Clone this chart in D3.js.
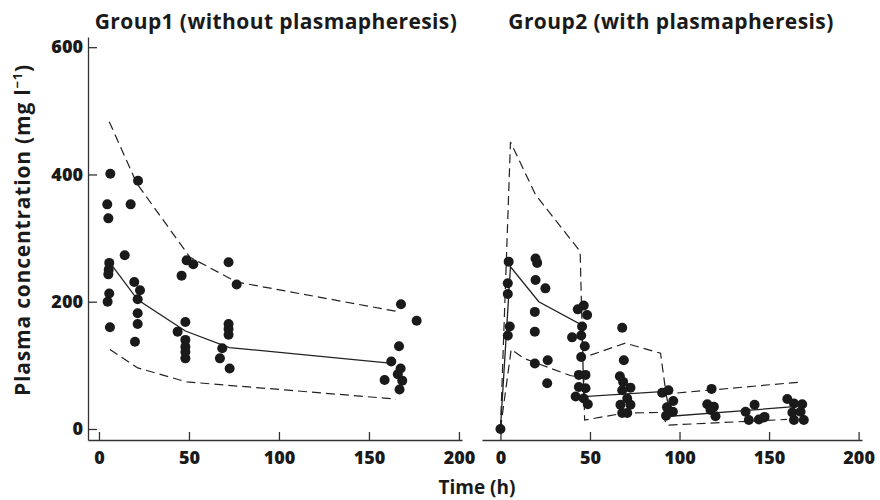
<!DOCTYPE html>
<html>
<head>
<meta charset="utf-8">
<script src="https://cdn.jsdelivr.net/npm/d3@7"></script>
<style>
  body { margin: 0; background: #fff; }
  text { font-family: "Open Sans", "DejaVu Sans", sans-serif; font-weight: 700; fill: #1a1a1a; }
  .axis path, .axis line { stroke: #333; stroke-width: 1.3; }
  .axis .tick text { font-family: "Open Sans", sans-serif; font-weight: 800; font-size: 18px; }
</style>
</head>
<body>
<div id="chart"></div>
<script>
// Group 1 observations (time h, concentration mg/l)
const g1Time = [6.3, 21.7, 4.6, 17.6, 5.2, 14.3, 5.7, 5.2, 5.4, 19.6, 22.8, 5.7, 48.7, 52.4, 45.9, 72, 76.5,
  4.8, 21.5, 21.5, 21.5, 20, 6.1, 48, 43.7, 48, 48, 48, 48, 72, 72, 72, 68.5, 67.2, 72.6,
  167.8, 176.5, 166.7, 162.4, 167.6, 166, 168.5, 158.7, 167];
const g1Conc = [401, 390, 353, 353, 331, 273, 261, 243, 250, 231, 218, 213, 265, 259, 241, 262, 227,
  200, 204, 182, 165, 137, 160, 168, 153, 140, 129, 121, 111, 165, 157, 148, 127, 111, 95,
  196, 170, 130, 106, 95, 86, 76, 77, 62];

const g1MeanTime = [7, 21.5, 48, 72.4, 163];
const g1Mean = [258, 203, 154, 128, 103];
const g1UpperTime = [5.7, 21, 50.5, 76.5, 165];
const g1Upper = [483, 386, 270, 231, 185];
const g1LowerTime = [6.1, 21.5, 48.7, 105, 165];
const g1Lower = [125, 96, 74, 61, 47];

// Group 2 observations
const g2Time = [0, 4.6, 19.6, 20.5, 4.1, 4.1, 19.6, 25.1, 19.2, 19.2, 5.2, 4.1, 19.2, 26.4, 26.1,
  43.2, 46.5, 48.4, 45.6, 40, 45.1, 47.1, 45.1, 43.8, 47.5, 43.8, 47.5, 42, 46.5, 48.8,
  68, 68.9, 66.7, 68.5, 72.6, 68, 70.8, 67, 72.6, 68, 70.8,
  90.3, 93.8, 96.5, 93, 96.3, 92.5,
  117.9, 115.5, 119.2, 117.3, 120.1, 141.9, 136.9, 138.7, 144.3, 147.5, 147.1,
  160.2, 163.9, 168.5, 163, 167.6, 163.9, 169.4];
const g2Conc = [0, 263, 268, 261, 229, 212, 234, 221, 184, 153, 161, 147, 103, 108, 72,
  188, 194, 179, 161, 144, 147, 130, 113, 85, 85, 66, 64, 51, 48, 39,
  159, 108, 83, 74, 65, 61, 48, 38, 38, 25, 25,
  57, 61, 44, 34, 27, 21,
  63, 39, 35, 30, 20, 38, 27, 14, 15, 19, 18,
  47, 40, 39, 26, 27, 14, 14];

const g2MeanTime = [0, 5.6, 21.4, 45.6, 46.5, 92.2, 95, 164];
const g2Mean = [0, 255, 200, 163, 51, 59, 20, 35];
const g2UpperTime = [0, 5.6, 19.6, 44.5, 46, 69.8, 89.4, 92.5, 168.5];
const g2Upper = [0, 451, 368, 279, 112, 135, 119, 55, 74];
const g2LowerTime = [0, 6, 13, 39, 46.5, 47, 69, 90, 93, 160];
const g2Lower = [0, 125, 111, 84, 80, 14, 25, 26, 6, 15];

const xTicks = [0, 50, 100, 150, 200];
const yTicks = [0, 200, 400, 600];
const titles = ["Group1 (without plasmapheresis)", "Group2 (with plasmapheresis)"];

const zip = (xs, ys) => xs.map((x, i) => ({ t: x, c: ys[i] }));

const panels = [
  {
    title: titles[0], titleX: 276,
    xDomain: [-6.1, 201.7], xRange: [88, 462], yAxis: true,
    obs: zip(g1Time, g1Conc),
    mean: zip(g1MeanTime, g1Mean),
    upper: zip(g1UpperTime, g1Upper),
    lower: zip(g1LowerTime, g1Lower),
  },
  {
    title: titles[1], titleX: 671,
    xDomain: [-10.3, 201.9], xRange: [482, 862], yAxis: false,
    obs: zip(g2Time, g2Conc),
    mean: zip(g2MeanTime, g2Mean),
    upper: zip(g2UpperTime, g2Upper),
    lower: zip(g2LowerTime, g2Lower),
  },
];

const width = 880;
const height = 500;

const svg = d3.select("#chart").append("svg")
  .attr("width", width)
  .attr("height", height);

const y = d3.scaleLinear().domain([-17.3, 616]).range([440, 37]);

function styleTicks(axisG) {
  axisG.attr("font-family", null).attr("font-size", null);
  axisG.selectAll("text").attr("fill", "#1a1a1a");
}

panels.forEach((p) => {
  const x = d3.scaleLinear().domain(p.xDomain).range(p.xRange);
  const g = svg.append("g");

  g.append("g")
    .attr("class", "axis")
    .attr("transform", "translate(0,440)")
    .call(d3.axisBottom(x).tickValues(xTicks).tickSize(-8).tickSizeOuter(0).tickPadding(11))
    .call(styleTicks);

  if (p.yAxis) {
    g.append("g")
      .attr("class", "axis")
      .attr("transform", `translate(${p.xRange[0]},0)`)
      .call(d3.axisLeft(y).tickValues(yTicks).tickSize(-9).tickSizeOuter(0).tickPadding(5))
      .call(styleTicks);
  }

  const line = d3.line().x((d) => x(d.t)).y((d) => y(d.c));

  [p.upper, p.lower].forEach((band) => {
    g.append("path")
      .attr("d", line(band))
      .attr("fill", "none")
      .attr("stroke", "#222")
      .attr("stroke-width", 1.2)
      .attr("stroke-dasharray", "9,5");
  });

  g.append("path")
    .attr("d", line(p.mean))
    .attr("fill", "none")
    .attr("stroke", "#222")
    .attr("stroke-width", 1.3);

  g.selectAll("circle")
    .data(p.obs)
    .join("circle")
    .attr("cx", (d) => x(d.t))
    .attr("cy", (d) => y(d.c))
    .attr("r", 5)
    .attr("fill", "#1a1a1a");

  g.append("text")
    .attr("x", p.titleX)
    .attr("y", 29)
    .attr("text-anchor", "middle")
    .attr("font-size", 21)
    .attr("letter-spacing", 0.4)
    .text(p.title);
});

const yLabel = svg.append("text")
  .attr("transform", "translate(30,230) rotate(-90)")
  .attr("text-anchor", "middle")
  .attr("font-size", 21)
  .attr("letter-spacing", 0.8);
yLabel.append("tspan").text("Plasma concentration (mg l");
yLabel.append("tspan").attr("dy", -8).attr("font-size", 13).text("\u22121");
yLabel.append("tspan").attr("dy", 8).text(")");

svg.append("text")
  .attr("x", 477)
  .attr("y", 494)
  .attr("text-anchor", "middle")
  .attr("font-size", 19)
  .text("Time (h)");
</script>
</body>
</html>
